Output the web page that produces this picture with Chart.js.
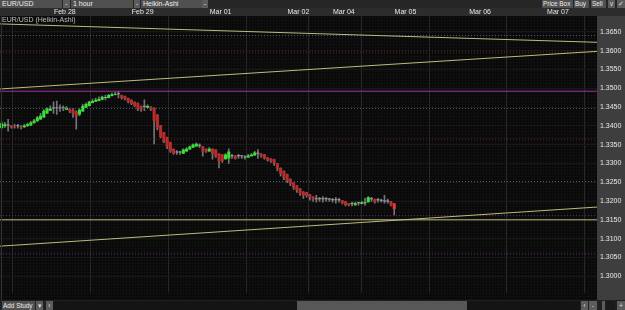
<!DOCTYPE html>
<html>
<head>
<meta charset="utf-8">
<script src="https://cdn.jsdelivr.net/npm/chart.js@4.4.0/dist/chart.umd.min.js"></script>
<style>
  html, body { margin: 0; padding: 0; }
  body { width: 625px; height: 310px; overflow: hidden; position: relative; background: #262626;
         font-family: "Liberation Sans", Arial, sans-serif; font-size: 7px; color: #e8e8e8; }
  .bar { position: absolute; left: 0; width: 625px; background: #262626; }
  .btn { position: absolute; height: 8px; line-height: 8px; background: #505050; color: #eee;
         box-sizing: border-box; padding-left: 2px; white-space: nowrap; overflow: hidden; }
  .arrow { text-align: center; padding-left: 0; background: #5c5c5c; color: #ddd; }
  .small { font-size: 6.4px; padding-left: 1px; }
  .plot { position: absolute; left: 0; top: 8px; width: 625px; height: 292px;
          background-color: #080808;
          background-image: linear-gradient(#0f0f0f 1px, transparent 1px),
                            linear-gradient(90deg, #0f0f0f 1px, transparent 1px);
          background-size: 3px 3px; }
  .edge { position: absolute; left: 1px; top: 16px; width: 1px; height: 284px; background: #333; }
  .caption { position: absolute; left: 2px; top: 16px; color: #bdbdbd; font-size: 7px; line-height: 8px; }
</style>
</head>
<body>
<div class="bar" style="top:0;height:8px">
  <div class="btn" style="left:0;width:62px">EUR/USD</div>
  <div class="btn arrow" style="left:63px;width:7px">-</div>
  <div class="btn" style="left:71px;width:62px">1 hour</div>
  <div class="btn arrow" style="left:134px;width:6px">-</div>
  <div class="btn" style="left:141px;width:61px">Heikin-Ashi</div>
  <div class="btn arrow" style="left:202px;width:6px">-</div>
  <div class="btn small" style="left:542px;width:31px">Price Box</div>
  <div class="btn small" style="left:574px;width:15px">Buy</div>
  <div class="btn small" style="left:591px;width:15px">Sell</div>
  <div class="btn arrow" style="left:608px;width:7px">v</div>
  <div class="btn arrow" style="left:617px;width:8px">&#x2713;</div>
</div>
<div class="plot"><canvas id="chart" width="625" height="292"></canvas></div>
<div class="edge"></div>
<div class="caption">EUR/USD (Heikin-Ashi)</div>
<div class="bar" style="top:300px;height:10px;background:#202020">
  <div class="btn small" style="left:2px;top:1px;width:33px;height:9px;line-height:9px">Add Study</div>
  <div class="btn arrow" style="left:36px;top:1px;width:7px;height:9px;line-height:9px">&#9662;</div>
  <div class="btn arrow" style="left:46px;top:1px;width:7px;height:9px;line-height:9px">&#8249;</div>
  <div class="btn" style="left:53px;top:1px;width:244px;height:9px;background:#141414"></div>
  <div class="btn" style="left:297px;top:1px;width:170px;height:9px;background:#575757"></div>
  <div class="btn" style="left:467px;top:1px;width:113px;height:9px;background:#141414"></div>
  <div class="btn arrow" style="left:581px;top:1px;width:7px;height:9px;line-height:9px">&#8249;</div>
  <div class="btn arrow" style="left:589px;top:1px;width:8px;height:9px;line-height:9px">-</div>
  <div class="btn" style="left:602px;top:1px;width:3px;height:9px;background:#5c5c5c"></div>
  <div class="btn" style="left:606px;top:1px;width:9px;height:9px;background:#1a1a1a"></div>
  <div class="btn arrow" style="left:617px;top:1px;width:8px;height:9px;line-height:9px">+</div>
</div>
<script>
// hourly Heikin-Ashi candles, EUR/USD
const openP = [1.3394,1.3399,1.3401,1.3401,1.3399,1.3399,1.3399,1.3396,1.3399,1.3401,1.3407,1.3412,1.3417,1.3422,1.3433,1.3440,
  1.3446,1.3446,1.3446,1.3446,1.3443,1.3446,1.3443,1.3438,1.3430,1.3438,1.3448,1.3453,1.3461,1.3464,1.3466,1.3469,
  1.3474,1.3474,1.3479,1.3482,1.3484,1.3482,1.3479,1.3474,1.3469,1.3464,1.3461,1.3453,1.3451,1.3448,1.3451,1.3448,
  1.3430,1.3401,1.3383,1.3370,1.3357,1.3339,1.3329,1.3329,1.3326,1.3332,1.3337,1.3342,1.3345,1.3347,1.3345,1.3339,
  1.3332,1.3339,1.3337,1.3326,1.3324,1.3311,1.3313,1.3319,1.3321,1.3319,1.3319,1.3316,1.3316,1.3319,1.3321,1.3326,
  1.3326,1.3324,1.3316,1.3313,1.3311,1.3300,1.3288,1.3280,1.3272,1.3259,1.3249,1.3241,1.3233,1.3225,1.3223,1.3218,
  1.3212,1.3205,1.3205,1.3205,1.3205,1.3204,1.3202,1.3202,1.3202,1.3202,1.3199,1.3194,1.3192,1.3189,1.3194,1.3192,
  1.3194,1.3197,1.3205,1.3205,1.3202,1.3201,1.3199,1.3199,1.3199,1.3194];
const closeP = [1.3407,1.3404,1.3401,1.3396,1.3396,1.3399,1.3396,1.3401,1.3404,1.3409,1.3414,1.3422,1.3427,1.3440,1.3446,1.3446,
  1.3446,1.3446,1.3446,1.3446,1.3448,1.3438,1.3433,1.3425,1.3443,1.3453,1.3458,1.3464,1.3466,1.3469,1.3471,1.3477,
  1.3474,1.3482,1.3484,1.3484,1.3484,1.3474,1.3471,1.3464,1.3458,1.3453,1.3443,1.3443,1.3451,1.3453,1.3443,1.3414,
  1.3396,1.3370,1.3357,1.3345,1.3332,1.3326,1.3329,1.3329,1.3337,1.3339,1.3345,1.3350,1.3352,1.3347,1.3332,1.3332,
  1.3339,1.3326,1.3319,1.3306,1.3306,1.3324,1.3332,1.3319,1.3313,1.3319,1.3319,1.3316,1.3321,1.3324,1.3329,1.3326,
  1.3319,1.3313,1.3308,1.3306,1.3300,1.3285,1.3272,1.3262,1.3254,1.3246,1.3236,1.3228,1.3220,1.3215,1.3215,1.3210,
  1.3205,1.3205,1.3205,1.3205,1.3205,1.3204,1.3202,1.3202,1.3202,1.3194,1.3189,1.3189,1.3192,1.3194,1.3194,1.3197,
  1.3194,1.3210,1.3205,1.3197,1.3202,1.3201,1.3199,1.3199,1.3189,1.3179];
const highP = [1.3412,1.3409,1.3417,1.3401,1.3404,1.3404,1.3401,1.3404,1.3407,1.3412,1.3417,1.3425,1.3433,1.3443,1.3448,1.3453,
  1.3464,1.3466,1.3456,1.3453,1.3451,1.3446,1.3446,1.3440,1.3446,1.3458,1.3461,1.3466,1.3471,1.3474,1.3477,1.3479,
  1.3482,1.3484,1.3487,1.3489,1.3492,1.3482,1.3479,1.3474,1.3469,1.3464,1.3461,1.3453,1.3469,1.3456,1.3451,1.3448,
  1.3430,1.3401,1.3383,1.3370,1.3357,1.3339,1.3334,1.3332,1.3339,1.3342,1.3347,1.3352,1.3355,1.3352,1.3345,1.3339,
  1.3342,1.3339,1.3337,1.3326,1.3324,1.3326,1.3339,1.3324,1.3321,1.3324,1.3321,1.3321,1.3324,1.3326,1.3332,1.3337,
  1.3326,1.3324,1.3316,1.3313,1.3311,1.3300,1.3288,1.3280,1.3272,1.3259,1.3249,1.3241,1.3233,1.3225,1.3223,1.3218,
  1.3212,1.3215,1.3210,1.3212,1.3210,1.3207,1.3207,1.3210,1.3207,1.3202,1.3199,1.3194,1.3197,1.3197,1.3197,1.3199,
  1.3207,1.3212,1.3210,1.3205,1.3207,1.3205,1.3215,1.3205,1.3199,1.3194];
const lowP = [1.3391,1.3396,1.3386,1.3394,1.3394,1.3394,1.3391,1.3396,1.3399,1.3401,1.3407,1.3412,1.3417,1.3422,1.3433,1.3440,
  1.3433,1.3430,1.3438,1.3440,1.3443,1.3435,1.3422,1.3391,1.3427,1.3438,1.3448,1.3453,1.3461,1.3464,1.3466,1.3469,
  1.3469,1.3474,1.3479,1.3482,1.3474,1.3471,1.3469,1.3461,1.3456,1.3451,1.3440,1.3438,1.3440,1.3448,1.3440,1.3352,
  1.3389,1.3368,1.3355,1.3339,1.3329,1.3324,1.3324,1.3324,1.3326,1.3332,1.3337,1.3342,1.3345,1.3342,1.3319,1.3329,
  1.3332,1.3311,1.3316,1.3288,1.3303,1.3311,1.3300,1.3313,1.3311,1.3313,1.3313,1.3311,1.3316,1.3319,1.3321,1.3313,
  1.3316,1.3311,1.3306,1.3303,1.3295,1.3280,1.3267,1.3257,1.3249,1.3241,1.3231,1.3223,1.3215,1.3207,1.3210,1.3202,
  1.3199,1.3197,1.3199,1.3197,1.3199,1.3199,1.3197,1.3194,1.3197,1.3192,1.3187,1.3187,1.3187,1.3189,1.3189,1.3192,
  1.3189,1.3197,1.3199,1.3194,1.3197,1.3197,1.3194,1.3194,1.3187,1.3163];

// x axis: one slot per hour, day labels at day boundaries
const slotCount = 184;
const dayTicks = [15.5, 39.5, 63.5, 87.5, 101.5, 120.5, 143.5, 167.5];
const dayLabels = ["Feb 28", "Feb 29", "Mar 01", "Mar 02", "Mar 04", "Mar 05", "Mar 06", "Mar 07"];
const priceTicks = [1.3000,1.3050,1.3100,1.3150,1.3200,1.3250,1.3300,1.3350,1.3400,1.3450,1.3500,1.3550,1.3600,1.3650];
const priceMin = 1.2956, priceMax = 1.3692;

// drawn lines: [start price, end price]
const trendDown = [1.3671, 1.3622];
const trendUpHigh = [1.3498, 1.3598];
const trendUpLow = [1.3080, 1.3184];
const magentaLevel = 1.3492;
const yellowLevel = 1.3150;
const pivotBlue = [1.3640, 1.3446, 1.3252];
const pivotRed = [1.3596, 1.3365];
const pivotPurple = [1.3161, 1.3060];

const xLeft = -0.5, xRight = slotCount - 0.5;
const FONT = "'Liberation Sans', Arial, sans-serif";

function segment(a, b, color, dash) {
  return {
    type: "line",
    data: [{ x: xLeft, y: a }, { x: xRight, y: b }],
    borderColor: color,
    borderWidth: 1,
    borderDash: dash || [],
    pointRadius: 0,
    order: 0
  };
}

function candleColor(c) {
  const i = c.dataIndex;
  const diff = closeP[i] - openP[i];
  if (Math.abs(diff) < 0.00005) return "#a0a0a0";
  if (i === openP.length - 1) return "#f03434";
  return diff > 0 ? "#33e633" : "#b82c2c";
}

const panelBg = {
  id: "panelBg",
  beforeDraw(chart) {
    const { ctx, scales } = chart;
    ctx.save();
    ctx.fillStyle = "#2c2c2c";
    ctx.fillRect(0, scales.x.top, chart.width, scales.x.bottom - scales.x.top);
    ctx.fillStyle = "#3e3e3e";
    ctx.fillRect(scales.y.left, scales.y.top, chart.width - scales.y.left, chart.height - scales.y.top);
    ctx.restore();
  }
};

const datasets = [
  {
    label: "wicks",
    data: lowP.map((l, i) => ({ x: i, y: [l, highP[i]] })),
    backgroundColor: "#747474",
    barThickness: 1,
    grouped: false,
    order: 2
  },
  {
    label: "bodies",
    data: openP.map((o, i) => ({ x: i, y: [o, closeP[i]] })),
    backgroundColor: candleColor,
    barPercentage: 0.95,
    categoryPercentage: 1,
    minBarLength: 1,
    grouped: false,
    order: 1
  },
  segment(trendDown[0], trendDown[1], "#bcbc7e"),
  segment(trendUpHigh[0], trendUpHigh[1], "#bcbc7e"),
  segment(trendUpLow[0], trendUpLow[1], "#bcbc7e"),
  segment(magentaLevel, magentaLevel, "#a033a6"),
  segment(yellowLevel, yellowLevel, "#bcbc7e")
];
pivotBlue.forEach(p => datasets.push(segment(p, p, "#4a5b82", [1, 2])));
pivotRed.forEach(p => datasets.push(segment(p, p, "#742424", [1, 2])));
pivotPurple.forEach(p => datasets.push(segment(p, p, "#632c74", [1, 2])));

new Chart(document.getElementById("chart"), {
  type: "bar",
  data: { datasets },
  plugins: [panelBg],
  options: {
    responsive: false,
    animation: false,
    layout: { padding: 0 },
    plugins: { legend: { display: false }, tooltip: { enabled: false } },
    scales: {
      x: {
        type: "linear",
        position: "top",
        min: xLeft,
        max: xRight,
        offset: false,
        afterBuildTicks: s => { s.ticks = dayTicks.map(v => ({ value: v })); },
        afterFit: s => { s.height = 8; },
        grid: { color: "#282828", drawTicks: false },
        border: { display: false },
        ticks: {
          color: "#e8e8e8",
          font: { family: FONT, size: 7 },
          align: "start",
          labelOffset: 2,
          padding: 0,
          maxRotation: 0,
          autoSkip: false,
          callback: v => dayLabels[dayTicks.indexOf(v)]
        }
      },
      y: {
        type: "linear",
        position: "right",
        min: priceMin,
        max: priceMax,
        afterBuildTicks: s => { s.ticks = priceTicks.map(v => ({ value: v })); },
        afterFit: s => { s.width = 28; },
        grid: { color: "#181818", drawTicks: false },
        border: { display: false },
        ticks: {
          color: "#e8e8e8",
          font: { family: FONT, size: 7 },
          padding: 3,
          callback: v => v.toFixed(4)
        }
      }
    }
  }
});
</script>
</body>
</html>
